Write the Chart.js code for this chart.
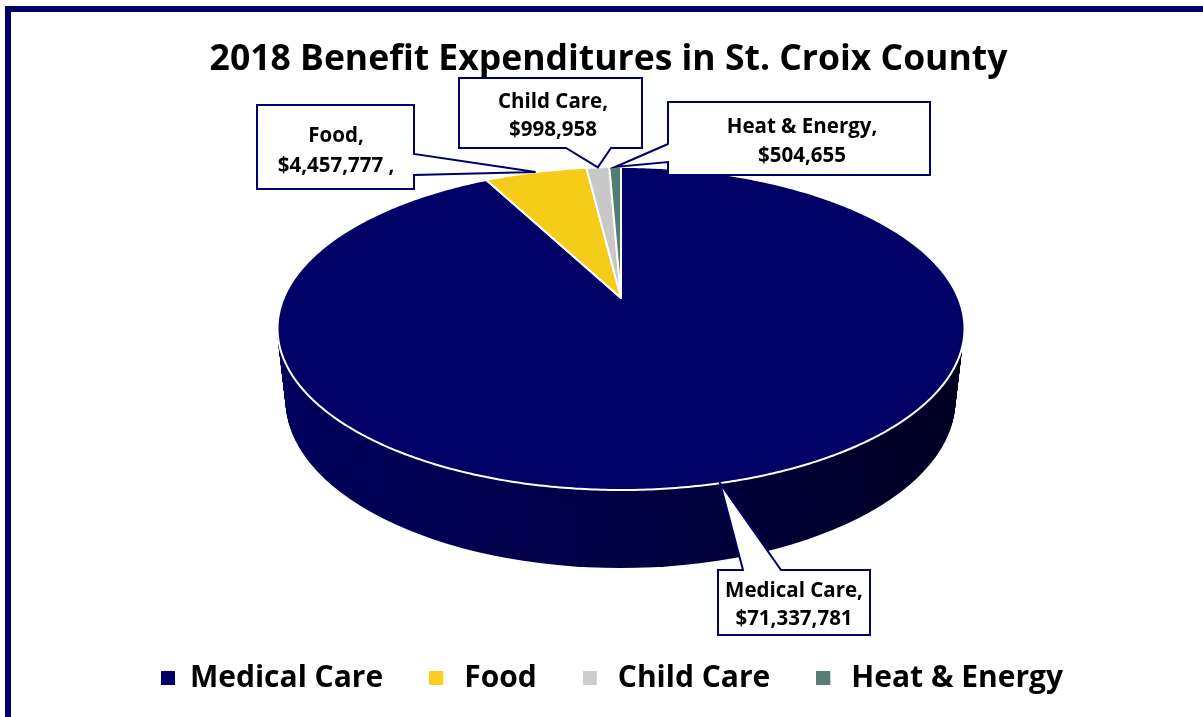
<!DOCTYPE html>
<html><head><meta charset="utf-8">
<style>html,body{margin:0;padding:0;background:#fff;overflow:hidden}canvas{display:block}</style>
<script src="https://cdn.jsdelivr.net/npm/chart.js@4"></script>
</head><body><canvas id="c" width="1203" height="717"></canvas>
<script>
const chartTitle = '2018 Benefit Expenditures in St. Croix County';
const categories = ['Medical Care', 'Food', 'Child Care', 'Heat & Energy'];
const expenditures = [71337781, 4457777, 998958, 504655];
const sliceColors = ['#000066', '#F5CD19', '#C8C8C8', '#527D73'];
const legendColors = ['#000066', '#FBCF1B', '#CCCCCC', '#557F76'];
const valueSuffixes = ['', ' ,', '', ''];

// Presentation geometry only (no data)
const FONT = '"Open Sans"';
const VIEW = {x:621, y:298, A:337.3, B:155.75, k:0.1888};
const WALL = {top:{cx:620.5, cy:328.5, rx:343.5, ry:161.5}, bottom:{cx:620.5, cy:400, rx:335, ry:168}};
const calloutBoxes = [
  {l:718, t:570, r:870, b:635, cx:794, ly:[591.5,619.5], p:[[743,570],[781,570]]},
  {l:257, t:105, r:414, b:189, cx:336, ly:[136.5,166.5], p:[[414,154],[414,175]]},
  {l:459, t:78,  r:642, b:148, cx:553, ly:[102.5,130.5], p:[[611,148],[566,148]]},
  {l:668, t:102, r:930, b:175, cx:802, ly:[127.5,156.5], p:[[668,162],[668,144]]}
];

function project(a, f) {
  const u = Math.cos(a) * f, v = Math.sin(a) * f, w = 1 - VIEW.k * v;
  return [VIEW.x + VIEW.A * u / w, VIEW.y + VIEW.B * v / w];
}
const Arc = Chart.ArcElement || Chart.registry.getElement('arc');
Arc.prototype.draw = function (ctx) {
  const {startAngle, endAngle} = this.getProps(['startAngle', 'endAngle']);
  const o = this.options;
  const n = Math.max(2, Math.ceil((endAngle - startAngle) / 0.01));
  ctx.save();
  ctx.beginPath();
  ctx.moveTo(VIEW.x, VIEW.y);
  for (let i = 0; i <= n; i++) {
    const p = project(startAngle + (endAngle - startAngle) * i / n, 1);
    ctx.lineTo(p[0], p[1]);
  }
  ctx.closePath();
  ctx.fillStyle = o.backgroundColor;
  ctx.fill();
  ctx.lineJoin = 'round';
  ctx.lineWidth = o.borderWidth;
  ctx.strokeStyle = o.borderColor;
  ctx.stroke();
  ctx.restore();
};

function markerImage(color, off) {
  const c = document.createElement('canvas');
  c.width = 20; c.height = 14;
  const g = c.getContext('2d');
  g.fillStyle = color;
  g.fillRect(off, 0, 14, 14);
  return c;
}

const pie3d = {
  id: 'pie3d',
  beforeDraw(chart) {
    const ctx = chart.ctx;
    ctx.save();
    ctx.fillStyle = '#fff';
    ctx.fillRect(0, 0, chart.width, chart.height);
    ctx.fillStyle = '#000066';
    ctx.fillRect(5, 6, 6, chart.height - 6);
    ctx.fillRect(5, 6, chart.width - 5, 6);
    ctx.restore();
  },
  beforeDatasetsDraw(chart) {
    const ctx = chart.ctx, a = WALL.top, b = WALL.bottom;
    const g = ctx.createLinearGradient(a.cx - a.rx, 0, a.cx + a.rx, 0);
    g.addColorStop(0, '#00005E');
    g.addColorStop(0.5, '#000044');
    g.addColorStop(1, '#000022');
    ctx.save();
    ctx.fillStyle = g;
    const steps = 80;
    for (let i = steps; i >= 0; i--) {
      const t = i / steps;
      ctx.beginPath();
      ctx.ellipse(a.cx + (b.cx - a.cx) * t, a.cy + (b.cy - a.cy) * t,
                  a.rx + (b.rx - a.rx) * t, a.ry + (b.ry - a.ry) * t, 0, 0, Math.PI * 2);
      ctx.fill();
    }
    ctx.restore();
  },
  afterDatasetsDraw(chart) {
    const ctx = chart.ctx, arcs = chart.getDatasetMeta(0).data;
    ctx.save();
    arcs.forEach((arc, i) => {
      const box = calloutBoxes[i];
      const tip = project((arc.startAngle + arc.endAngle) / 2, 1);
      ctx.beginPath();
      const [p1, p2] = box.p;
      const pts = [[box.l, box.t], [box.r, box.t], [box.r, box.b], [box.l, box.b]];
      const side = p1[1] === box.t && p2[1] === box.t ? 0 : p1[0] === box.r ? 1 : p1[1] === box.b ? 2 : 3;
      ctx.moveTo(pts[0][0], pts[0][1]);
      for (let s = 0; s < 4; s++) {
        if (s === side) { ctx.lineTo(p1[0], p1[1]); ctx.lineTo(tip[0], tip[1]); ctx.lineTo(p2[0], p2[1]); }
        const nx = pts[(s + 1) % 4];
        ctx.lineTo(nx[0], nx[1]);
      }
      ctx.closePath();
      ctx.fillStyle = '#fff';
      ctx.fill();
      ctx.lineWidth = 2;
      ctx.lineJoin = 'miter';
      ctx.strokeStyle = '#000066';
      ctx.stroke();
      ctx.fillStyle = '#000';
      ctx.font = '700 20.5px ' + FONT;
      ctx.textAlign = 'center';
      ctx.textBaseline = 'middle';
      ctx.fillText(categories[i] + ',', box.cx, box.ly[0]);
      ctx.fillText('$' + expenditures[i].toLocaleString('en-US') + valueSuffixes[i], box.cx, box.ly[1]);
    });
    ctx.restore();
  },
  afterLayout(chart) {
    chart.legend.top = 617;
    chart.legend.left += 1;
  }
};

new Chart(document.getElementById('c'), {
  type: 'pie',
  data: {
    labels: categories,
    datasets: [{
      data: expenditures,
      backgroundColor: sliceColors,
      borderColor: '#ffffff',
      borderWidth: 2,
      clip: false
    }]
  },
  options: {
    responsive: false,
    animation: false,
    layout: {padding: {left: 14, top: 0, bottom: 8}},
    plugins: {
      tooltip: {enabled: false},
      title: {
        display: true,
        text: chartTitle,
        color: '#000',
        font: {family: FONT, size: 35.5, weight: '700'},
        padding: {top: 39, bottom: 10}
      },
      legend: {
        position: 'bottom',
        labels: {
          color: '#000',
          font: {family: FONT, size: 30, weight: '700'},
          usePointStyle: true,
          pointStyleWidth: 20,
          padding: 46,
          generateLabels(chart) {
            return categories.map((name, i) => ({
              text: name,
              fillStyle: legendColors[i],
              strokeStyle: legendColors[i],
              lineWidth: 0,
              pointStyle: markerImage(legendColors[i], i === 0 ? 6 : 0),
              hidden: false,
              index: i
            }));
          }
        }
      }
    }
  },
  plugins: [pie3d]
});
</script></body></html>
